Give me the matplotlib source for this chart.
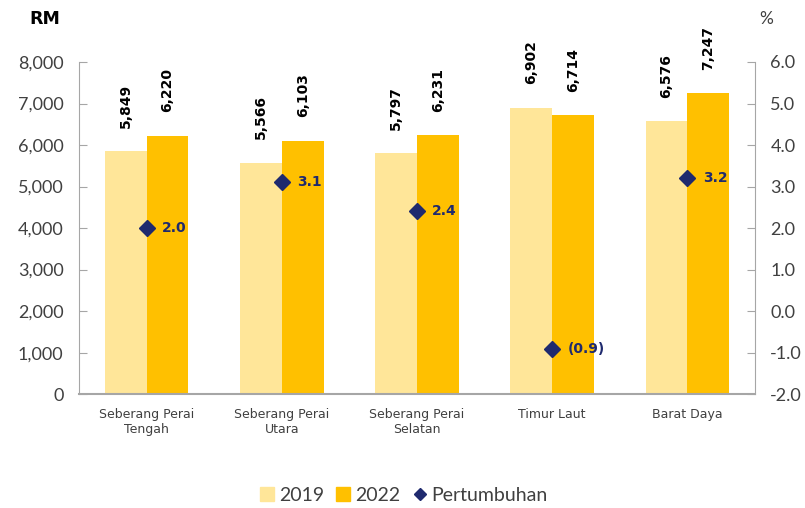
import numpy as np
import matplotlib.pyplot as plt
from matplotlib.lines import Line2D

# -------- DATA --------
categories = ["Seberang Perai\nTengah", "Seberang Perai\nUtara", "Seberang Perai\nSelatan",
              "Timur Laut", "Barat Daya"]
income_2019 = [5849, 5566, 5797, 6902, 6576]
income_2022 = [6220, 6103, 6231, 6714, 7247]
growth = [2.0, 3.1, 2.4, -0.9, 3.2]
left_ticks = [0, 1000, 2000, 3000, 4000, 5000, 6000, 7000, 8000]
right_ticks = [-2, -1, 0, 1, 2, 3, 4, 5, 6]

# -------- STYLE --------
C2019 = "#FFE699"
C2022 = "#FFC000"
CNAVY = "#1F2A6E"
GREY = "#404040"
plt.rcParams["font.family"] = ["Lato", "DejaVu Sans"]

fig = plt.figure(figsize=(8.05, 5.08), dpi=100)
ax = fig.add_axes([0.098, 0.224, 0.840, 0.654])
ax2 = ax.twinx()

x = np.arange(len(categories))
w = 0.31
b1 = ax.bar(x - w / 2, income_2019, w, color=C2019, zorder=2)
b2 = ax.bar(x + w / 2, income_2022, w, color=C2022, zorder=2)

# rotated value labels above each bar
for bars in (b1, b2):
    for rect in bars:
        v = rect.get_height()
        ax.annotate(f"{v:,.0f}", (rect.get_x() + rect.get_width() / 2, v),
                    xytext=(0, 17), textcoords="offset points", rotation=90,
                    ha="center", va="bottom", fontsize=10, fontweight="bold",
                    color="black", family="DejaVu Sans")

ax.set_xlim(-0.5, len(categories) - 0.5)
ax.set_ylim(0, 8000)
ax.set_yticks(left_ticks)
ax.set_yticklabels([f"{t:,}" for t in left_ticks])
ax.set_xticks(x)
ax.set_xticklabels(categories, fontsize=9, color=GREY, family="DejaVu Sans")

ax2.plot(x, growth, linestyle="none", marker="D", markersize=8, color=CNAVY, zorder=3)
for xi, g in zip(x, growth):
    lab = f"{g:.1f}" if g >= 0 else f"({abs(g):.1f})"
    ax2.annotate(lab, (xi, g), xytext=(11, 0), textcoords="offset points",
                 ha="left", va="center", fontsize=10, fontweight="bold",
                 color=CNAVY, family="DejaVu Sans")
ax2.set_ylim(-2, 6)
ax2.set_yticks(right_ticks)
ax2.set_yticklabels([f"{t:.1f}" for t in right_ticks])

for a in (ax, ax2):
    for s in a.spines.values():
        s.set_visible(False)
    a.tick_params(axis="y", direction="in", length=6, color="#A6A6A6",
                  labelsize=13, labelcolor=GREY, pad=11)
    a.tick_params(axis="x", length=0, pad=10)
ax.spines["left"].set_visible(True)
ax.spines["left"].set_color("#A6A6A6")
ax.spines["bottom"].set_visible(True)
ax.spines["bottom"].set_color("#A6A6A6")
ax.spines["bottom"].set_linewidth(1.5)
ax2.spines["right"].set_visible(True)
ax2.spines["right"].set_color("#A6A6A6")

fig.text(0.056, 0.962, "RM", ha="center", va="center", fontsize=12.5, fontweight="bold",
         color="black", family="DejaVu Sans")
fig.text(0.952, 0.962, "%", ha="center", va="center", fontsize=12.5, color=GREY)

handles = [
    Line2D([], [], linestyle="none", marker="s", markersize=10, color=C2019),
    Line2D([], [], linestyle="none", marker="s", markersize=10, color=C2022),
    Line2D([], [], linestyle="none", marker="D", markersize=6, color=CNAVY),
]
fig.legend(handles, ["2019", "2022", "Pertumbuhan"], loc="center", bbox_to_anchor=(0.5, 0.025),
           ncol=3, frameon=False, fontsize=14, handletextpad=0.1, columnspacing=0.5,
           labelcolor=GREY, handlelength=1.0)

fig.savefig("out.png", dpi=100)
